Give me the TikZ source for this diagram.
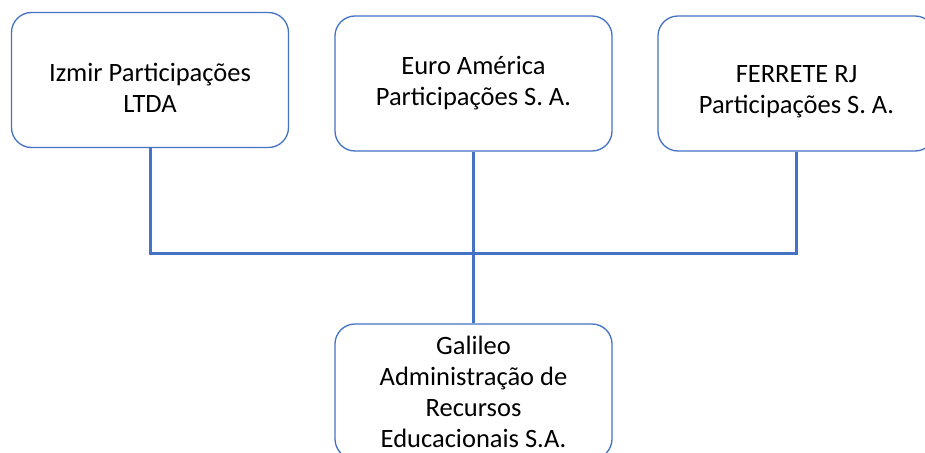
\documentclass[tikz,border=0pt]{standalone}
\usepackage{fontspec}
\setmainfont{Carlito}
\usepackage{xcolor}
\definecolor{boxblue}{HTML}{4472C4}
\newcommand{\topgap}{\rule{0pt}{33pt}}

\begin{document}
\begin{tikzpicture}[x=1pt,y=-1pt,
  entity/.style={draw=boxblue,line width=1.3pt,rounded corners=20pt,fill=white,
    minimum width=277pt,minimum height=135pt,align=center,
    font=\fontsize{26.5}{31}\selectfont},
  link/.style={draw=boxblue,line width=3pt}]
\useasboundingbox (0,0) rectangle (925,452);
\node (izmir) at (150,80) [entity] {\topgap Izmir Participações\\LTDA};
\node (euro) at (473.5,83.5) [entity] {Euro América\\Participações S. A.};
\node (ferrete) at (796.5,83.5) [entity] {\topgap FERRETE RJ\\Participações S. A.};
\node (galileo) at (473.5,391.5) [entity] {Galileo\\Administração de\\Recursos\\Educacionais S.A.};
\coordinate (join) at (473.5,253);
\draw[link] (izmir.south) |- (join);
\draw[link] (ferrete.south) |- (join);
\draw[link] (euro.south) -- (galileo.north);
\end{tikzpicture}
\end{document}
